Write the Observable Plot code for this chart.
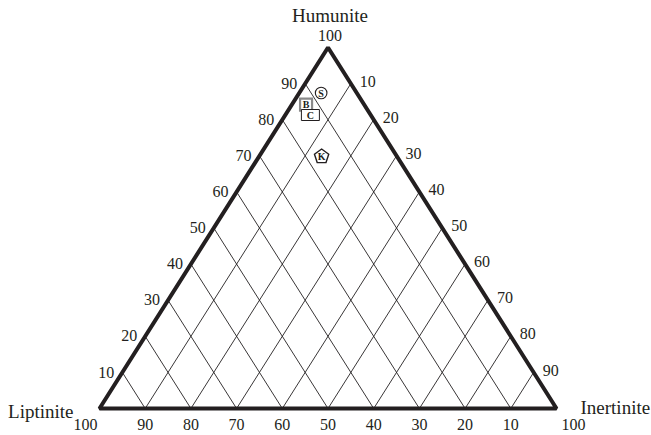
<!DOCTYPE html>
<html><head><meta charset="utf-8">
<script src="https://cdn.jsdelivr.net/npm/d3@7"></script>
<script src="https://cdn.jsdelivr.net/npm/@observablehq/plot@0.6"></script>
<style>body{margin:0;background:#fff}</style>
</head><body><div id="chart"></div>
<script>
// ---- data ----
const gridTicks = [10, 20, 30, 40, 50, 60, 70, 80, 90];
const endMembers = ["Humunite", "Liptinite", "Inertinite"];
const sampleNames = ["S", "B", "C", "K"];
const humunite   = [87.4, 84.2, 81.3, 69.8];
const liptinite  = [7.8, 12.7, 13.2, 16.5];
const inertinite = [4.8, 3.1, 5.5, 13.7];

// ternary -> cartesian data space (Liptinite at (0,0), Inertinite at (100,0), Humunite at (50,100))
const tx = d => d.I + d.H / 2;
const ty = d => d.H;

const corners = [
  {name: endMembers[1], H: 0, L: 100, I: 0},
  {name: endMembers[2], H: 0, L: 0, I: 100},
  {name: endMembers[0], H: 100, L: 0, I: 0}
];
const samples = sampleNames.map((name, k) => ({name, H: humunite[k], L: liptinite[k], I: inertinite[k]}));

// custom marker symbols
const rectSymbol = (w, h) => ({draw(ctx) { ctx.rect(-w / 2, -h / 2, w, h); }});
const pentagon = (r) => ({draw(ctx) {
  for (let k = 0; k < 5; k++) {
    const a = -Math.PI / 2 + k * 2 * Math.PI / 5;
    const px = r * Math.cos(a), py = r * Math.sin(a);
    if (k === 0) ctx.moveTo(px, py); else ctx.lineTo(px, py);
  }
  ctx.closePath();
}});

const ink = "#231f20";
const font = "'Liberation Serif', 'Times New Roman', serif";
const one = name => samples.filter(d => d.name === name);

const chart = Plot.plot({
  width: 651,
  height: 435,
  marginLeft: 99,
  marginRight: 95,
  marginTop: 47,
  marginBottom: 27,
  x: {domain: [0, 100], axis: null},
  y: {domain: [0, 100], axis: null},
  style: {fontFamily: font, fontSize: "16px", background: "#fff", color: ink},
  marks: [
    // constant-Inertinite lines (parallel to left edge)
    Plot.link(gridTicks, {x1: i => i, y1: 0, x2: i => 50 + i / 2, y2: i => 100 - i, stroke: ink, strokeWidth: 0.9}),
    // constant-Liptinite lines (parallel to right edge)
    Plot.link(gridTicks, {x1: l => 100 - l, y1: 0, x2: l => (100 - l) / 2, y2: l => 100 - l, stroke: ink, strokeWidth: 0.9}),
    // triangle outline
    Plot.line(corners, {x: tx, y: ty, curve: "linear-closed", stroke: ink, strokeWidth: 4, strokeLinejoin: "miter"}),
    // bottom labels (Liptinite %)
    Plot.text(gridTicks, {x: i => i, y: 0, text: i => String(100 - i), dy: 16, fontSize: 16, fill: ink}),
    // left labels (Humunite %)
    Plot.text(gridTicks, {x: h => h / 2, y: h => h, text: h => String(h), textAnchor: "end", dx: -8, dy: 0, fontSize: 16, fill: ink}),
    // right labels (Inertinite %)
    Plot.text(gridTicks, {x: i => 50 + i / 2, y: i => 100 - i, text: i => String(i), textAnchor: "start", dx: 9, dy: -2, fontSize: 16, fill: ink}),
    // corner "100" labels
    Plot.text([corners[0]], {x: tx, y: ty, text: () => "100", dx: -14, dy: 16, fontSize: 16, fill: ink}),
    Plot.text([corners[1]], {x: tx, y: ty, text: () => "100", dx: 17, dy: 16, fontSize: 16, fill: ink}),
    Plot.text([corners[2]], {x: tx, y: ty, text: () => "100", dx: 2, dy: -12, fontSize: 16, fill: ink}),
    // end-member names
    Plot.text([corners[0]], {x: tx, y: ty, text: "name", textAnchor: "end", dx: -26, dy: 3, fontSize: 19, fill: ink}),
    Plot.text([corners[1]], {x: tx, y: ty, text: "name", textAnchor: "start", dx: 24, dy: -1, fontSize: 19, fill: ink}),
    Plot.text([corners[2]], {x: tx, y: ty, text: "name", dx: 2, dy: -32, fontSize: 19, fill: ink}),
    // sample markers
    Plot.dot(one("S"), {x: tx, y: ty, symbol: "circle", r: 5.8, fill: "#fff", stroke: ink, strokeWidth: 1.1}),
    Plot.dot(one("B"), {x: tx, y: ty, symbol: rectSymbol(12, 12), fill: "#fff", stroke: "#8a8a8a", strokeWidth: 2.2}),
    Plot.dot(one("C"), {x: tx, y: ty, symbol: rectSymbol(18, 11), fill: "#fff", stroke: ink, strokeWidth: 1}),
    Plot.dot(one("K"), {x: tx, y: ty, symbol: pentagon(7.5), fill: "#fff", stroke: ink, strokeWidth: 1.4}),
    Plot.text(samples, {x: tx, y: ty, text: "name", fontSize: 10, fontWeight: "bold", dy: 0.5, fill: ink})
  ]
});
document.getElementById("chart").appendChild(chart);
</script>
</body></html>
